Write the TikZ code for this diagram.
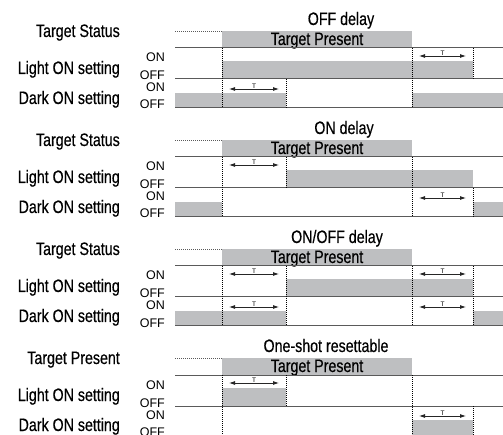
\documentclass[tikz,border=0pt]{standalone}
\usepackage{fontspec}
\setmainfont{Liberation Sans}
\newfontfamily\condfont[FakeStretch=0.79,FakeBold=0.4]{Liberation Sans}
\usetikzlibrary{arrows.meta}
\definecolor{sig}{HTML}{BEBFC1}
\definecolor{rulec}{HTML}{5A5A5A}
\tikzset{
  lbl/.style={font=\condfont\fontsize{18}{18}\selectfont, anchor=base east, inner sep=0pt},
  ttl/.style={font=\condfont\fontsize{18}{18}\selectfont, anchor=base, inner sep=0pt},
  tpres/.style={font=\condfont\fontsize{18}{18}\selectfont, anchor=base, inner sep=0pt},
  onoff/.style={font=\fontsize{12.5}{12.5}\selectfont, anchor=base east, inner sep=0pt},
  hline/.style={draw=rulec, line width=1pt},
  vdot/.style={draw=black, line width=0.8pt, dash pattern=on 1pt off 1pt},
  tdot/.style={draw=rulec, line width=0.8pt, dash pattern=on 1pt off 1pt},
  tarrow/.style={draw=black!85, line width=0.8pt, {Latex[length=6pt,width=4pt]}-{Latex[length=6pt,width=4pt]}},
  tmark/.style={font=\fontsize{6.5}{6.5}\selectfont, anchor=south, inner sep=0.3pt},
}
\newcommand\tpanel[4]{%
  \fill[sig] (222,0) rectangle (412,17);
  \node[lbl] (#1ts) at (120,6) {#2};
  \node[lbl] (#1lo) at (120,43) {Light ON setting};
  \node[lbl] (#1dk) at (120,73) {Dark ON setting};
  \node[onoff] (#1onA) at (165,31) {ON};
  \node[onoff] (#1ofA) at (165,49) {OFF};
  \node[onoff] (#1onB) at (165,61) {ON};
  \node[onoff] (#1ofB) at (165,78) {OFF};
  \node[ttl] (#1tt) at (#4,-6) {#3};
  \node[tpres] (#1tp) at (317,14) {Target Present};
  \draw[tdot] (175,0) -- (222,0);
  \draw[hline] (175,17) -- (503,17);
  \draw[hline] (175,48) -- (503,48);
}
\newcommand\tarr[4]{%
  \coordinate (#1a) at ({#2+7},#4);
  \coordinate (#1b) at ({#3-7},#4);
  \draw[tarrow] (#1a) -- (#1b) node[midway, tmark] (#1t) {T};
}
\begin{document}
\begin{tikzpicture}[x=1pt,y=-1pt]
\useasboundingbox (0,0) rectangle (503,435);

% ---------- Panel 1: OFF delay ----------
\begin{scope}[yshift=-31pt]
  \fill[sig] (222,30) rectangle (473,48);
  \fill[sig] (175,62) rectangle (286,77);
  \fill[sig] (412,62) rectangle (503,77);
  \tpanel{a}{Target Status}{OFF delay}{341}
  \draw[hline] (175,77) -- (503,77);
  \draw[vdot] (222,17) -- (222,77);
  \draw[vdot] (412,17) -- (412,77);
  \draw[vdot] (286,48) -- (286,77);
  \draw[vdot] (473,17) -- (473,48);
  \tarr{aL}{412}{473}{25}
  \tarr{aD}{222}{286}{58}
\end{scope}

% ---------- Panel 2: ON delay ----------
\begin{scope}[yshift=-140pt]
  \fill[sig] (286,30) rectangle (473,48);
  \fill[sig] (175,62) rectangle (222,77);
  \fill[sig] (473,62) rectangle (503,77);
  \tpanel{b}{Target Status}{ON delay}{344}
  \draw[hline] (175,77) -- (503,77);
  \draw[vdot] (222,17) -- (222,77);
  \draw[vdot] (412,17) -- (412,77);
  \draw[vdot] (286,17) -- (286,48);
  \draw[vdot] (473,48) -- (473,77);
  \tarr{bL}{222}{286}{25}
  \tarr{bD}{412}{473}{58}
\end{scope}

% ---------- Panel 3: ON/OFF delay ----------
\begin{scope}[yshift=-249pt]
  \fill[sig] (286,30) rectangle (473,48);
  \fill[sig] (175,62) rectangle (286,77);
  \fill[sig] (473,62) rectangle (503,77);
  \tpanel{c}{Target Status}{ON/OFF delay}{337}
  \draw[hline] (175,77) -- (503,77);
  \draw[vdot] (222,17) -- (222,77);
  \draw[vdot] (412,17) -- (412,77);
  \draw[vdot] (286,17) -- (286,77);
  \draw[vdot] (473,17) -- (473,77);
  \tarr{cL1}{222}{286}{25}
  \tarr{cL2}{412}{473}{25}
  \tarr{cD1}{222}{286}{58}
  \tarr{cD2}{412}{473}{58}
\end{scope}

% ---------- Panel 4: One-shot resettable ----------
\begin{scope}[yshift=-358pt]
  \fill[sig] (222,30) rectangle (286,48);
  \fill[sig] (412,62) rectangle (473,77);
  \tpanel{d}{Target Present}{One-shot resettable}{326}
  \draw[vdot] (222,17) -- (222,77);
  \draw[vdot] (412,17) -- (412,77);
  \draw[vdot] (286,17) -- (286,48);
  \draw[vdot] (473,48) -- (473,77);
  \tarr{dL}{222}{286}{25}
  \tarr{dD}{412}{473}{58}
\end{scope}
\end{tikzpicture}
\end{document}
